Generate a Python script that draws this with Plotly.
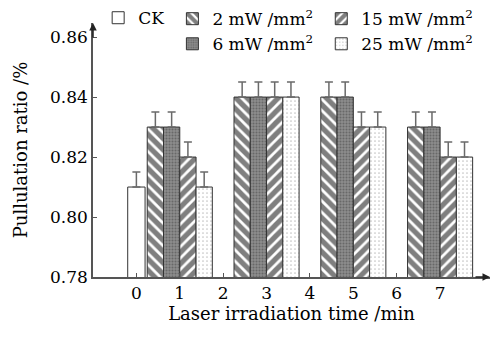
import plotly.graph_objects as go

# ---- data ----
time_ck = [0]
ck_vals = [0.81]
ck_err = [0.005]

times = [1, 3, 5, 7]
series_names = ["2 mW /mm<sup>2</sup>", "6 mW /mm<sup>2</sup>",
                "15 mW /mm<sup>2</sup>", "25 mW /mm<sup>2</sup>"]
vals_2 = [0.83, 0.84, 0.84, 0.83]
vals_6 = [0.83, 0.84, 0.84, 0.83]
vals_15 = [0.82, 0.84, 0.83, 0.82]
vals_25 = [0.81, 0.84, 0.83, 0.82]
err_2 = [0.005, 0.005, 0.005, 0.005]
err_6 = [0.005, 0.005, 0.005, 0.005]
err_15 = [0.005, 0.005, 0.005, 0.005]
err_25 = [0.005, 0.005, 0.005, 0.005]

x_ticks = [0, 1, 2, 3, 4, 5, 6, 7]
y_ticks = [0.78, 0.80, 0.82, 0.84, 0.86]

FONT = "DejaVu Serif"
BW = 0.375

def err(arr):
    return dict(type="data", symmetric=False, array=arr, arrayminus=[0] * len(arr),
                color="#6a6a6a", thickness=1.5, width=4)

fig = go.Figure()
fig.add_trace(go.Bar(
    x=time_ck, y=ck_vals, name="CK", width=0.4, offset=-0.2,
    marker=dict(color="white", line=dict(color="#333", width=1)),
    error_y=err(ck_err), legend="legend"))

patterns = [
    dict(shape="\\", size=8, solidity=0.65, fgcolor="black", bgcolor="white"),
    dict(shape=".", size=3, solidity=0.35, fgcolor="#444", bgcolor="#8c8c8c"),
    dict(shape="/", size=8, solidity=0.65, fgcolor="black", bgcolor="white"),
    dict(shape=".", size=4, solidity=0.15, fgcolor="#8a8a8a", bgcolor="white"),
]
all_vals = [vals_2, vals_6, vals_15, vals_25]
all_errs = [err_2, err_6, err_15, err_25]
legends = ["legend2", "legend2", "legend3", "legend3"]
for i in range(4):
    fig.add_trace(go.Bar(
        x=times, y=all_vals[i], name=series_names[i], width=BW,
        offset=-2 * BW + i * BW,
        marker=dict(color="white", pattern=patterns[i], line=dict(color="#333", width=1)),
        error_y=err(all_errs[i]), legend=legends[i]))

axis_common = dict(showline=True, linecolor="#555", linewidth=1.5, ticks="inside",
                   ticklen=4, tickcolor="#555", showgrid=False, zeroline=False,
                   automargin=False,
                   tickfont=dict(family=FONT, size=17, color="black"))

leg_common = dict(orientation="v", font=dict(family=FONT, size=17, color="black"),
                  bgcolor="rgba(0,0,0,0)", itemwidth=30, tracegroupgap=0)

# the page body has an 8px default margin, so the figure is 8px smaller
fig.update_layout(
    width=490, height=329,
    margin=dict(l=85, r=8, t=15, b=60, autoexpand=False),
    barmode="overlay",
    plot_bgcolor="white", paper_bgcolor="white",
    font=dict(family=FONT, color="black"),
    xaxis=dict(range=[-1, 8.15], tickvals=x_ticks, ticktext=[str(t) for t in x_ticks],
               title=dict(text="Laser irradiation time /min", font=dict(family=FONT, size=18),
                          standoff=2), **axis_common),
    yaxis=dict(range=[0.78, 0.8647], tickvals=y_ticks, tickformat=".2f",
               title=dict(text="Pullulation ratio /%", font=dict(family=FONT, size=18),
                          standoff=18), **axis_common),
    legend=dict(x=0.013, y=1.019, xanchor="left", yanchor="middle", **leg_common),
    legend2=dict(x=0.2, y=0.966, xanchor="left", yanchor="middle", **leg_common),
    legend3=dict(x=0.575, y=0.966, xanchor="left", yanchor="middle", **leg_common),
    showlegend=True,
)

# axis arrows
fig.add_annotation(x=0, y=1, xref="paper", yref="paper", ax=0, ay=16, text="",
                   showarrow=True, arrowhead=2, arrowsize=1, arrowwidth=1.5, arrowcolor="#222")
fig.add_annotation(x=1, y=0, xref="paper", yref="paper", ax=-16, ay=0, text="",
                   showarrow=True, arrowhead=2, arrowsize=1, arrowwidth=1.5, arrowcolor="#222")

fig.write_html("out.html")
